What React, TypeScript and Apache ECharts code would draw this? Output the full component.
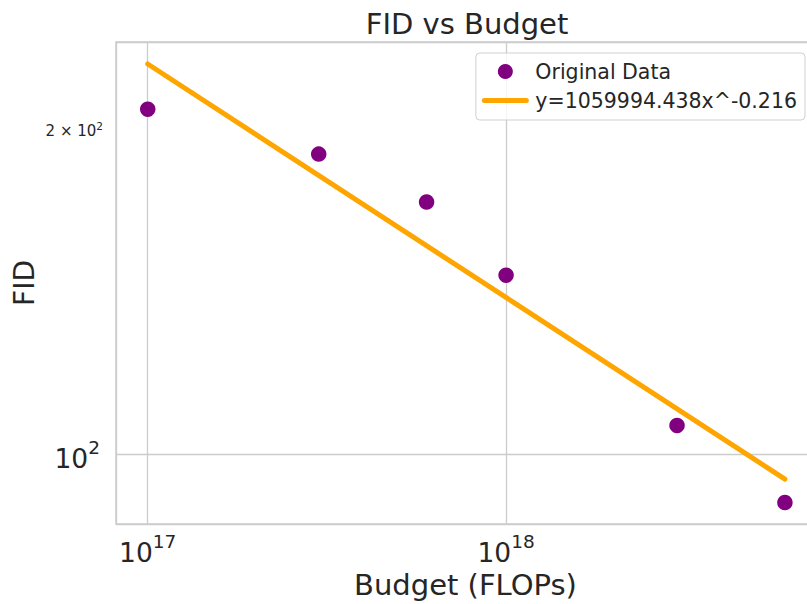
import React, { useEffect, useRef } from 'react';
import * as echarts from 'echarts';

// Data
const budgets = [1e17, 3e17, 6e17, 1e18, 3e18, 6e18];
const fidValues = [208.6, 189.6, 171.2, 146.5, 106.4, 90.3];
const fitBudgets = [1e17, 6e18];
const fitValues = [229.7, 94.9];
const dataLabel = 'Original Data';
const fitLabel = 'y=1059994.438x^-0.216';
const minorYTicks = [200];
const chartTitle = 'FID vs Budget';
const xName = 'Budget (FLOPs)';
const yName = 'FID';

export default function App() {
  const ref = useRef<HTMLDivElement>(null);
  useEffect(() => {
    const chart = echarts.init(ref.current!, null, { renderer: 'svg' });
    const font = 'DejaVu Sans';
    const txt = '#262626';
    const grid = '#cccccc';
    const powExp = (v: number): number | null => {
      const e = Math.log10(v);
      return Math.abs(e - Math.round(e)) < 1e-6 ? Math.round(e) : null;
    };
    const tickRich = {
      b: { fontSize: 26.5, lineHeight: 34, verticalAlign: 'bottom', fontFamily: font, color: txt },
      s: { fontSize: 18.5, lineHeight: 17, verticalAlign: 'top', fontFamily: font, color: txt },
    };
    const powFormatter = (v: number) => {
      const e = powExp(v);
      return e === null ? '' : `{b|10}{s|${e}}`;
    };
    chart.setOption({
      animation: false,
      backgroundColor: '#ffffff',
      textStyle: { fontFamily: font, color: txt },
      title: {
        text: chartTitle,
        left: 462,
        top: 4,
        textAlign: 'center',
        textStyle: { fontFamily: font, fontSize: 29, fontWeight: 'normal', color: txt },
      },
      grid: {
        left: 116,
        top: 42,
        width: 699,
        bottom: 80,
        containLabel: false,
        outerBoundsMode: 'none',
        show: true,
        borderColor: grid,
        borderWidth: 1.5,
        backgroundColor: 'transparent',
      },
      legend: {
        orient: 'vertical',
        right: 2,
        top: 53,
        itemWidth: 42,
        itemHeight: 15,
        itemGap: 8,
        padding: [8, 8, 9, 6],
        backgroundColor: 'rgba(255,255,255,0.8)',
        borderColor: '#d0d0d0',
        borderWidth: 1,
        borderRadius: 4,
        lineStyle: { width: 5, cap: 'round' },
        textStyle: { fontSize: 20.5, lineHeight: 20, color: txt, fontFamily: font, padding: [0, 0, 0, 4] },
        data: [
          { name: dataLabel, icon: 'circle' },
          { name: fitLabel, itemStyle: { opacity: 0 } },
        ],
      },
      xAxis: {
        type: 'log',
        logBase: 10,
        min: 8.155e16,
        max: 7.28e18,
        name: xName,
        nameLocation: 'middle',
        nameGap: 44,
        nameTextStyle: { fontSize: 29, color: txt, fontFamily: font },
        axisLine: { show: false },
        axisTick: { show: false },
        axisLabel: { margin: 8, formatter: powFormatter, rich: tickRich },
        splitLine: { show: true, lineStyle: { color: grid, width: 1.3 } },
        minorTick: { show: false },
        minorSplitLine: { show: false },
      },
      yAxis: {
        type: 'log',
        logBase: 10,
        min: 86.27,
        max: 240.7,
        name: yName,
        nameLocation: 'middle',
        nameGap: 78,
        nameTextStyle: { fontSize: 28, color: txt, fontFamily: font },
        axisLine: { show: false },
        axisTick: { show: false },
        axisLabel: { margin: 16, formatter: powFormatter, rich: tickRich },
        splitLine: { show: true, lineStyle: { color: grid, width: 1.3 } },
      },
      series: [
        {
          name: dataLabel,
          type: 'scatter',
          symbol: 'circle',
          symbolSize: 15.5,
          itemStyle: { color: '#800080', opacity: 1 },
          data: budgets.map((b, i) => [b, fidValues[i]]),
          z: 3,
          markLine: {
            silent: true,
            symbol: 'none',
            lineStyle: { color: 'rgba(0,0,0,0)', width: 0 },
            label: {
              position: 'start',
              distance: 13,
              formatter: (p: any) => {
                const v = p.value as number;
                const e = Math.floor(Math.log10(v));
                const m = Math.round(v / Math.pow(10, e));
                return `{a|${m} × 10}{s|${e}}`;
              },
              rich: {
                a: { fontSize: 15, lineHeight: 18, verticalAlign: 'bottom', fontFamily: font, color: txt },
                s: { fontSize: 10.5, lineHeight: 10, verticalAlign: 'top', fontFamily: font, color: txt },
              },
            },
            data: minorYTicks.map((v) => ({ yAxis: v })),
          },
        },
        {
          name: fitLabel,
          type: 'line',
          symbol: 'none',
          showSymbol: false,
          lineStyle: { color: '#FFA500', width: 5, cap: 'round' },
          itemStyle: { color: '#FFA500' },
          data: fitBudgets.map((b, i) => [b, fitValues[i]]),
          z: 4,
        },
      ],
    });
    return () => chart.dispose();
  }, []);
  return <div ref={ref} style={{ width: 807, height: 604, position: 'absolute', left: 0, top: 0 }} />;
}
